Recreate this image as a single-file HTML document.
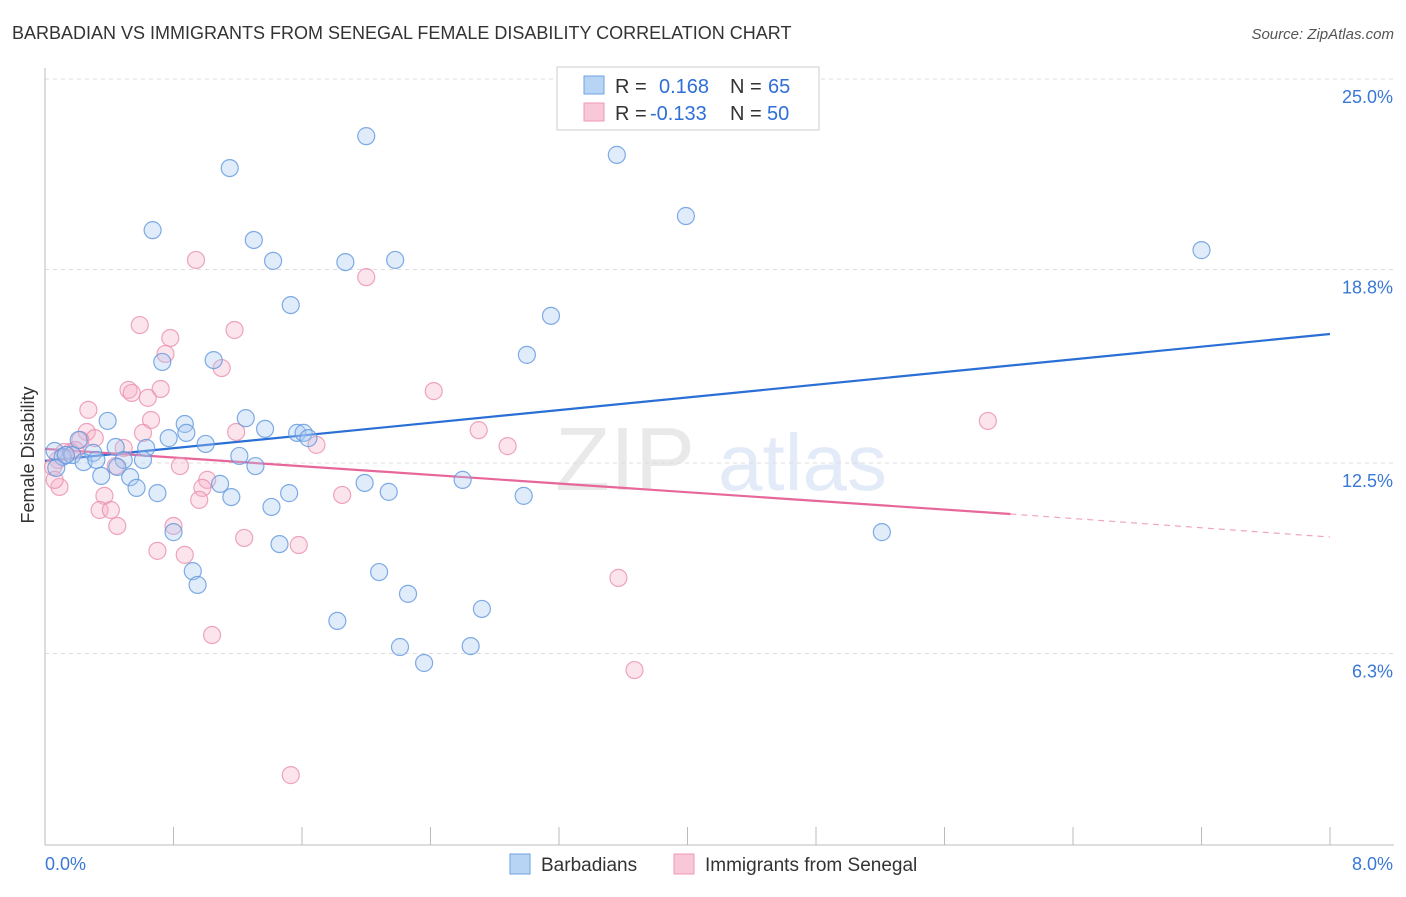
<!DOCTYPE html>
<html><head><meta charset="utf-8"><style>
body{margin:0;background:#fff;font-family:"Liberation Sans",sans-serif;}
svg text{font-family:"Liberation Sans",sans-serif;}
</style></head><body>
<svg id="chart" width="1406" height="892" xmlns="http://www.w3.org/2000/svg">
<text x="12" y="39" font-size="18" fill="#333">BARBADIAN VS IMMIGRANTS FROM SENEGAL FEMALE DISABILITY CORRELATION CHART</text>
<text x="1394" y="39" font-size="15" fill="#555" font-style="italic" text-anchor="end">Source: ZipAtlas.com</text>
<text transform="translate(34,455) rotate(-90)" font-size="18" fill="#333" text-anchor="middle">Female Disability</text>
<g opacity="0.25">
<text x="555" y="490" font-size="90" font-family="Liberation Serif" fill="#aaa">ZIP</text>
<text x="718" y="490" font-size="80" fill="#8fb4e0">atlas</text>
</g>
<g id="grid"></g><g id="axes"></g><g id="trends"></g><g id="points"></g>
<g>
<rect x="557" y="67" width="262" height="63" fill="#fff" stroke="#ccc"/>
<rect x="584" y="76" width="20" height="18" fill="#b8d4f5" stroke="#6fa3e0"/>
<text x="615" y="93" font-size="20" fill="#333">R =</text><text x="659" y="93" font-size="20" fill="#2f6fd6">0.168</text>
<text x="730" y="93" font-size="20" fill="#333">N =</text><text x="768" y="93" font-size="20" fill="#2f6fd6">65</text>
<rect x="584" y="103" width="20" height="18" fill="#f8c8d8" stroke="#ee9ab5"/>
<text x="615" y="120" font-size="20" fill="#333">R =</text><text x="650" y="120" font-size="20" fill="#2f6fd6">-0.133</text>
<text x="730" y="120" font-size="20" fill="#333">N =</text><text x="767" y="120" font-size="20" fill="#2f6fd6">50</text>
</g>
<g>
<rect x="510" y="854" width="20" height="20" fill="#b8d4f5" stroke="#6fa3e0"/>
<text x="541" y="871" font-size="19" fill="#333">Barbadians</text>
<rect x="674" y="854" width="20" height="20" fill="#f8c8d8" stroke="#ee9ab5"/>
<text x="705" y="871" font-size="19" fill="#333">Immigrants from Senegal</text>
</g>
</svg>
<script>
const yTicks=[25.0,18.8,12.5,6.3];
const yTickLabels=["25.0%","18.8%","12.5%","6.3%"];
const xTickCount=10;
const xMin=0,xMax=8,yMin=0,yMax=25;
const blueX=[2.00,1.15,3.56,0.67,3.99,1.30,1.42,1.87,2.18,7.20,1.53,3.15,3.00,0.73,1.05,0.39,0.87,1.25,1.37,1.57,1.61,1.64,0.77,0.88,1.00,0.63,0.44,0.06,0.11,0.17,0.30,0.24,0.32,0.49,0.61,1.21,1.31,0.45,0.35,0.53,0.57,0.70,1.09,1.16,1.52,1.99,2.14,2.60,2.98,1.41,0.80,1.46,5.21,0.92,0.95,2.08,2.26,2.72,1.82,2.21,2.65,2.36,0.21,0.13,0.07];
const blueY=[23.14,22.10,22.53,20.08,20.54,19.76,19.08,19.04,19.11,19.43,17.64,17.29,16.02,15.79,15.85,13.87,13.77,13.96,13.61,13.48,13.48,13.31,13.31,13.48,13.12,12.99,13.02,12.89,12.70,12.76,12.83,12.53,12.60,12.60,12.60,12.73,12.40,12.37,12.08,12.04,11.69,11.52,11.82,11.39,11.52,11.85,11.56,11.95,11.43,11.07,10.25,9.86,10.25,8.98,8.53,8.95,8.24,7.75,7.36,6.51,6.54,5.99,13.25,12.76,12.34];
const pinkX=[0.94,2.00,0.59,0.78,1.18,0.75,1.10,0.52,0.72,0.54,0.64,2.42,0.27,0.66,5.87,2.70,0.26,0.61,1.19,0.31,0.22,2.88,1.69,0.49,0.16,0.08,0.05,0.84,0.44,1.01,0.09,0.98,0.37,1.85,0.96,0.34,0.41,0.45,0.80,1.24,1.58,0.70,0.87,3.57,1.04,3.67,1.53,0.06,0.12,0.19];
const pinkY=[19.11,18.55,16.99,16.57,16.83,16.05,15.59,14.88,14.91,14.78,14.62,14.84,14.23,13.90,13.87,13.57,13.51,13.48,13.51,13.31,13.25,13.05,13.09,12.99,12.86,12.60,12.37,12.40,12.40,11.95,11.72,11.69,11.43,11.46,11.30,10.97,10.97,10.45,10.45,10.06,9.83,9.64,9.51,8.76,6.90,5.76,2.34,11.95,12.86,12.92];
const blueTrend=[12.57,16.70];
const pinkTrend=[12.96,10.84,10.09];
const pinkSolidEnd=6.01;
const L=45,R=1330,T=79,B=845;
const pxPerY=30.72;
const sx=v=>L+(v-xMin)/(xMax-xMin)*(R-L);
const sy=v=>T+(yMax-v)*pxPerY;
const NS="http://www.w3.org/2000/svg";
function mk(parent,tag,attrs){const e=document.createElementNS(NS,tag);for(const k in attrs)e.setAttribute(k,attrs[k]);document.getElementById(parent).appendChild(e);return e;}
yTicks.forEach((t,i)=>{
 const g=mk('grid','line',{x1:L,x2:1394,y1:sy(t),y2:sy(t),stroke:'#ddd','stroke-dasharray':'4,4'});
 
 
 const tx=mk('axes','text',{x:1393,y:sy(t)+24,'font-size':18,fill:'#3a78d6','text-anchor':'end'});
 tx.textContent=yTickLabels[i];
 
 
});
const ya=mk('axes','line',{x1:L,x2:L,y1:68,y2:B,stroke:'#bbb'});


const xa=mk('axes','line',{x1:L,x2:1394,y1:B,y2:B,stroke:'#bbb'});


for(let i=0;i<=xTickCount;i++){
 const v=xMin+i*(xMax-xMin)/xTickCount;
 const t=mk('axes','line',{x1:sx(v),x2:sx(v),y1:827,y2:B,stroke:'#bbb'});
 
 
}
const xl0=mk('axes','text',{x:45,y:870,'font-size':18,fill:'#3a78d6'});xl0.textContent="0.0%";


const xl1=mk('axes','text',{x:1393,y:870,'font-size':18,fill:'#3a78d6','text-anchor':'end'});xl1.textContent="8.0%";


function dots(xs,ys,fill,stroke,name){
 xs.forEach((x,i)=>{
  const c=mk('points','circle',{cx:sx(x),cy:sy(ys[i]),r:8.5,fill:fill,'fill-opacity':0.35,stroke:stroke,'stroke-width':1.2,'stroke-opacity':0.8});
  
  
 });
}
dots(pinkX,pinkY,'#f5b3c8','#ea8fae','senegal-point');
dots(blueX,blueY,'#a9c9f0','#5f97de','barbadian-point');
const bt=mk('trends','line',{x1:sx(xMin),y1:sy(blueTrend[0]),x2:sx(xMax),y2:sy(blueTrend[1]),stroke:'#2a6fd6','stroke-width':2.2});


const pt=mk('trends','line',{x1:sx(xMin),y1:sy(pinkTrend[0]),x2:sx(pinkSolidEnd),y2:sy(pinkTrend[1]),stroke:'#e8679a','stroke-width':2.2});


const pd=mk('trends','line',{x1:sx(pinkSolidEnd),y1:sy(pinkTrend[1]),x2:sx(xMax),y2:sy(pinkTrend[2]),stroke:'#e8679a','stroke-width':1.2,'stroke-dasharray':'6,5','stroke-opacity':0.6});


</script>
</body></html>
